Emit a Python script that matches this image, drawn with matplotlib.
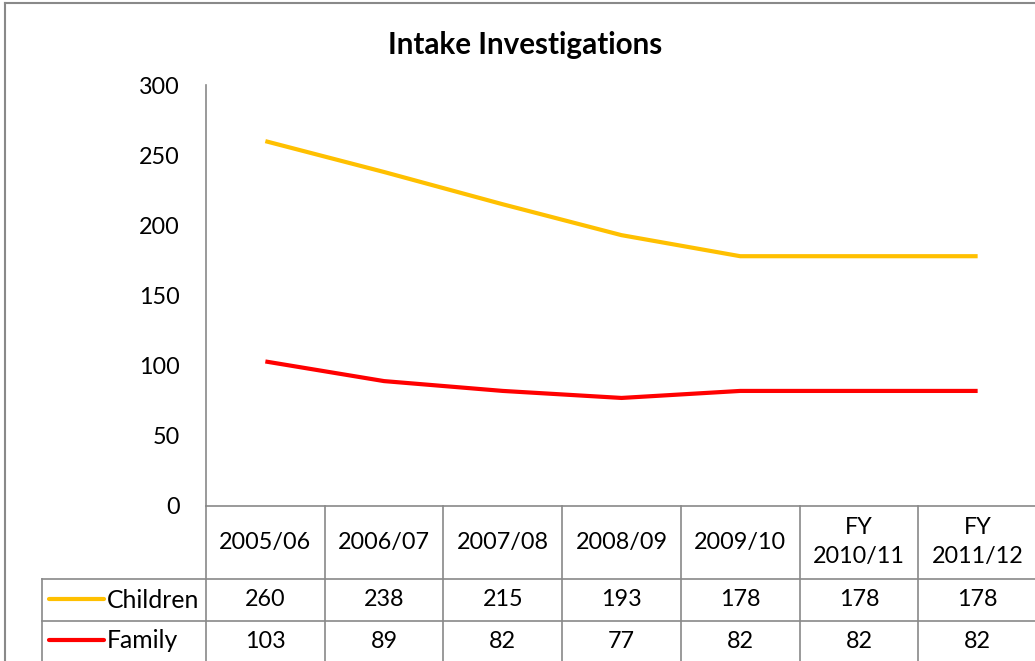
import matplotlib
matplotlib.use("Agg")
import matplotlib.pyplot as plt
from matplotlib.transforms import blended_transform_factory as btf

# ---- data ----
categories = ["2005/06", "2006/07", "2007/08", "2008/09", "2009/10", "FY\n2010/11", "FY\n2011/12"]
children = [260, 238, 215, 193, 178, 178, 178]
family = [103, 89, 82, 77, 82, 82, 82]
series_names = ["Children", "Family"]
series_colors = ["#FFC000", "#FF0000"]
yticks = [0, 50, 100, 150, 200, 250, 300]
title = "Intake Investigations"

plt.rcParams['font.family'] = ['Lato', 'DejaVu Sans']

W, H = 1035, 661
fig = plt.figure(figsize=(W / 100, H / 100), dpi=100)
fig.patch.set_facecolor("white")

GRAY = "#898989"
FS = 16.8

# overlay in pixel coordinates
ov = fig.add_axes([0, 0, 1, 1], zorder=0)
ov.set_xlim(0, W)
ov.set_ylim(H, 0)
ov.axis("off")

# main plot axes
L, R, T, B = 206, 1037, 85, 506
ax = fig.add_axes([L / W, 1 - B / H, (R - L) / W, (B - T) / H], zorder=1)
ax.patch.set_alpha(0)
n = len(categories)
ax.set_xlim(-0.5, n - 0.5)
ax.set_ylim(0, 300)
ax.set_yticks(yticks)
ax.set_yticklabels([str(v) for v in yticks], fontsize=16.8)
ax.tick_params(axis="y", length=0, pad=19)
ax.set_xticks([])
for s in ["top", "right", "bottom"]:
    ax.spines[s].set_visible(False)
ax.spines["left"].set_color(GRAY)
ax.spines["left"].set_linewidth(1.2)

series = [children, family]
xs = list(range(n))
for vals, col in zip(series, series_colors):
    ax.plot(xs, vals, color=col, lw=3.0, solid_capstyle="butt", zorder=3)

# title
ov.text(525, 45, title, ha="center", va="center", fontsize=21.3, fontweight="bold")

# outer border
ov.plot([5, W], [3, 3], color=GRAY, lw=1.5)
ov.plot([5, 5], [3, H], color=GRAY, lw=1.5)

# data table
tr = btf(ax.transData, ov.transData)
row_tops = [506, 579, 621]
row_centers = [600, 641]
ov.plot([206, 206], [506, H], color=GRAY, lw=1.2)
ov.plot([206, W], [506, 506], color=GRAY, lw=1.2)
for y in row_tops[1:]:
    ov.plot([42, W], [y, y], color=GRAY, lw=1.2)
ov.plot([42, 42], [579, H], color=GRAY, lw=1.2)
for i in range(n - 1):
    ax.plot([i + 0.5, i + 0.5], [506, H], color=GRAY, lw=1.2, transform=tr, clip_on=False)

for i, cat in enumerate(categories):
    ov.text(i, 542, cat, transform=tr, ha="center", va="center", fontsize=FS, linespacing=1.5)

for r, (name, col, vals) in enumerate(zip(series_names, series_colors, series)):
    yc = row_centers[r]
    ov.plot([49, 104], [yc - 1, yc - 1], color=col, lw=3.0, solid_capstyle="round")
    ov.text(107, yc, name, ha="left", va="center", fontsize=17.8)
    for i, v in enumerate(vals):
        ov.text(i, yc, str(v), transform=tr, ha="center", va="center", fontsize=FS)

fig.savefig("out.png", dpi=100, facecolor="white")
